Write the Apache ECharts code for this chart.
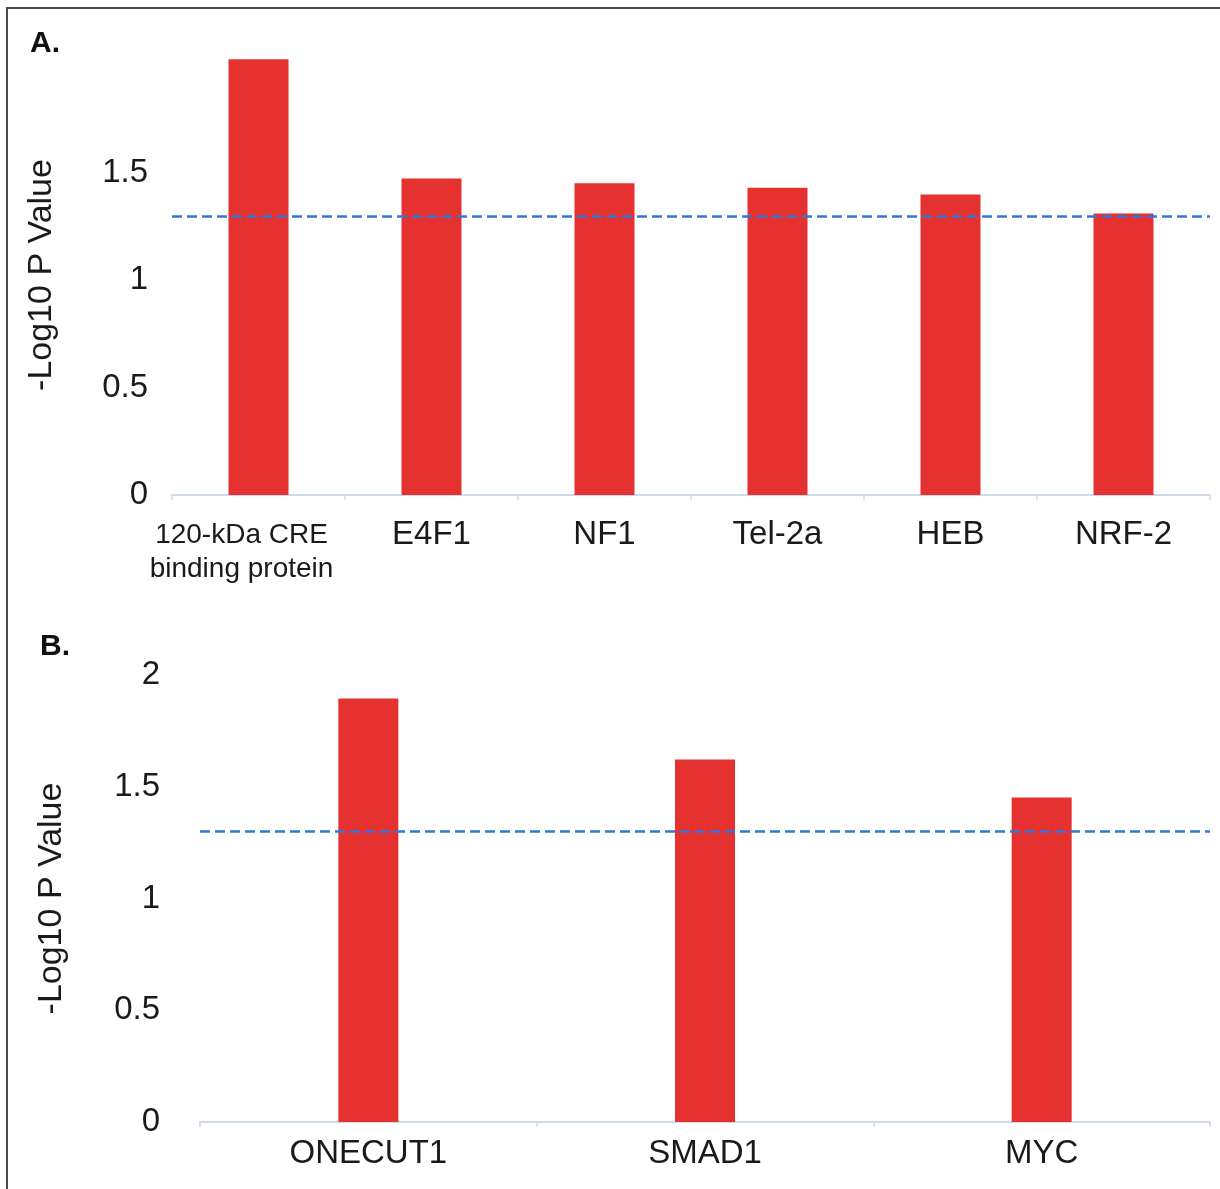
<!DOCTYPE html>
<html>
<head>
<meta charset="utf-8">
<script src="https://cdn.jsdelivr.net/npm/echarts@6/dist/echarts.min.js"></script>
<style>
html,body{margin:0;padding:0;background:#fff;}
#c{width:1220px;height:1189px;}
</style>
</head>
<body>
<div id="c"></div>
<script>
// Panel A data
const categoriesA = ['120-kDa CRE\nbinding protein', 'E4F1', 'NF1', 'Tel-2a', 'HEB', 'NRF-2'];
const valuesA = [2.03, 1.475, 1.452, 1.432, 1.400, 1.312];
// Panel B data
const categoriesB = ['ONECUT1', 'SMAD1', 'MYC'];
const valuesB = [1.895, 1.622, 1.452];
// Significance threshold (-log10 0.05)
const threshold = [1.301];
const yTicksA = [0, 0.5, 1, 1.5];
const yTicksB = [0, 0.5, 1, 1.5, 2];

const FONT = '"Liberation Sans", Arial, sans-serif';
const barColor = '#e63131';
const dashColor = '#2f78d8';
const axisLineColor = '#cfdaea';

const chart = echarts.init(document.getElementById('c'), null, {renderer: 'canvas'});

function markLine() {
  return {
    silent: true,
    symbol: 'none',
    label: {show: false},
    lineStyle: {color: dashColor, type: [10, 5], width: 2.5},
    data: [{yAxis: threshold[0]}]
  };
}

const option = {
  backgroundColor: '#fff',
  textStyle: {fontFamily: FONT},
  animation: false,
  graphic: [
    {type: 'polyline', shape: {points: [[7, 1189], [7, 8], [1220, 8]]}, style: {stroke: '#4a4a4a', lineWidth: 2, fill: null}},
    {type: 'text', left: 30, top: 29, style: {text: 'A.', font: 'bold 30px ' + FONT, fill: '#111'}},
    {type: 'text', left: 40, top: 632, style: {text: 'B.', font: 'bold 30px ' + FONT, fill: '#111'}}
  ],
  grid: [
    {left: 172, right: 10, top: 55, height: 440},
    {left: 200, right: 10, top: 675, height: 447}
  ],
  xAxis: [
    {
      type: 'category', gridIndex: 0,
      data: categoriesA.map((c, i) => i === 0 ? {value: c, textStyle: {fontSize: 28, lineHeight: 34, padding: [0, 34, 0, 0]}} : c),
      axisLine: {lineStyle: {color: axisLineColor, width: 2}},
      axisTick: {show: true, length: 5, lineStyle: {color: axisLineColor, width: 1.5}},
      axisLabel: {color: '#1a1a1a', fontSize: 33, margin: 23, interval: 0, fontFamily: FONT}
    },
    {
      type: 'category', gridIndex: 1, data: categoriesB,
      axisLine: {lineStyle: {color: axisLineColor, width: 2}},
      axisTick: {show: true, length: 5, lineStyle: {color: axisLineColor, width: 1.5}},
      axisLabel: {color: '#1a1a1a', fontSize: 33, margin: 15, interval: 0, fontFamily: FONT}
    }
  ],
  yAxis: [
    {
      type: 'value', gridIndex: 0, min: 0, max: 2.05, interval: 0.5,
      name: '-Log10 P Value', nameLocation: 'middle', nameGap: 113,
      nameTextStyle: {fontSize: 34, color: '#1a1a1a', fontFamily: FONT},
      axisLine: {show: false}, axisTick: {show: false}, splitLine: {show: false},
      axisLabel: {color: '#1a1a1a', fontSize: 33, margin: 24, fontFamily: FONT,
        formatter: v => yTicksA.some(t => Math.abs(t - v) < 1e-9) ? String(v) : ''}
    },
    {
      type: 'value', gridIndex: 1, min: 0, max: 2, interval: 0.5,
      name: '-Log10 P Value', nameLocation: 'middle', nameGap: 131,
      nameTextStyle: {fontSize: 34, color: '#1a1a1a', fontFamily: FONT},
      axisLine: {show: false}, axisTick: {show: false}, splitLine: {show: false},
      axisLabel: {color: '#1a1a1a', fontSize: 33, margin: 40, fontFamily: FONT,
        formatter: v => yTicksB.some(t => Math.abs(t - v) < 1e-9) ? String(v) : ''}
    }
  ],
  series: [
    {type: 'bar', xAxisIndex: 0, yAxisIndex: 0, data: valuesA, barWidth: 60,
      itemStyle: {color: barColor}, markLine: markLine()},
    {type: 'bar', xAxisIndex: 1, yAxisIndex: 1, data: valuesB, barWidth: 60,
      itemStyle: {color: barColor}, markLine: markLine()}
  ]
};
chart.setOption(option);
</script>
</body>
</html>
